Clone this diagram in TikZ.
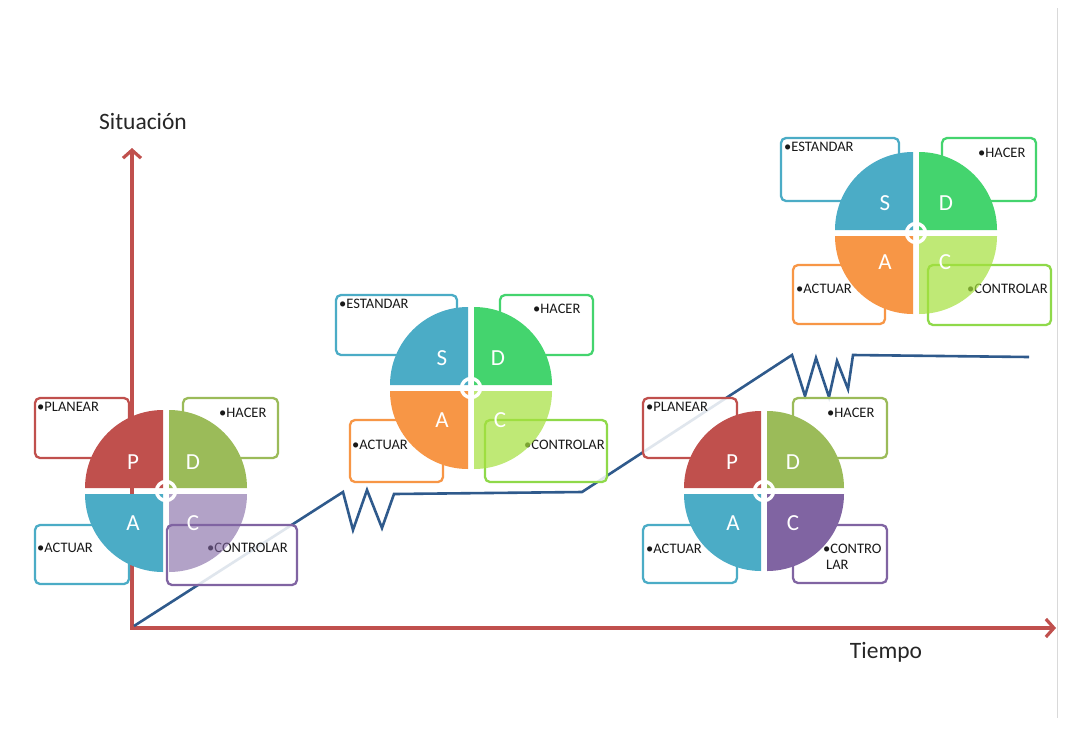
\documentclass[tikz,border=0pt]{standalone}
\usepackage{fontspec}
\setmainfont{Carlito}
\usetikzlibrary{arrows.meta}
\definecolor{axred}{HTML}{C0504D}
\definecolor{lineblue}{HTML}{2F5A8C}
\definecolor{pred}{HTML}{C0504D}
\definecolor{dolive}{HTML}{9BBB59}
\definecolor{ateal}{HTML}{4BACC6}
\definecolor{cpurple}{HTML}{8064A2}
\definecolor{dgreen}{HTML}{44D46E}
\definecolor{aorange}{HTML}{F79646}
\definecolor{clime}{HTML}{A5E13C}
\definecolor{blime}{HTML}{8FD94A}
\newcommand\cyc[7]{%
  \fill[#4] ({#1-3},{#2+3}) -- ++(180:{#3-3}) arc[start angle=180,end angle=90,radius={#3-3}] -- cycle;
  \fill[#5] ({#1+3},{#2+3}) -- ++(90:{#3-3}) arc[start angle=90,end angle=0,radius={#3-3}] -- cycle;
  \fill[#7] ({#1+3},{#2-3}) -- ++(0:{#3-3}) arc[start angle=0,end angle=-90,radius={#3-3}] -- cycle;
  \fill[#6] ({#1-3},{#2-3}) -- ++(270:{#3-3}) arc[start angle=270,end angle=180,radius={#3-3}] -- cycle;
  \draw[white,line width=3.5pt] (#1,#2) circle[radius=9.5];
}
\begin{document}
\begin{tikzpicture}[x=1pt,y=1pt,
  axis/.style={draw=axred,line width=3.4pt,{Straight Barb[length=8pt,width=18pt,line width=3.2pt]}-{Straight Barb[length=8pt,width=18pt,line width=3.2pt]}},
  trend/.style={draw=lineblue,line width=2.6pt,line join=miter},
  bx/.style={line width=2.3pt,rounded corners=5pt,fill=white,fill opacity=0.85},
  lbl/.style={font=\fontsize{14.5}{15}\selectfont,text=black!90,anchor=west,inner sep=0pt},
  ltr/.style={font=\fontsize{23}{26}\selectfont,text=white,inner sep=0pt},
  axlbl/.style={font=\fontsize{23.5}{26}\selectfont,text=black!85,inner sep=0pt}]
\useasboundingbox[fill=white] (0,0) rectangle (1076,-740);
\draw[black!15,line width=1pt] (1057,-8) -- (1057,-718);
% axes
\draw[axis] (132,-148) -- (132,-628) -- (1056,-628);
\node[axlbl] (ylab) at (143,-121) {Situación};
\node[axlbl] (xlab) at (886,-652) {Tiempo};
% trend line
\draw[trend] (134,-626) -- (343,-492) -- (353,-530) -- (367,-490) -- (382,-528) -- (394,-494)
  -- (582,-492) -- (792,-355) -- (805,-396) -- (816,-358) -- (829,-397) -- (837,-361)
  -- (848,-389) -- (853,-355) -- (1029,-357);
% ---------- diagram 1 (PDCA) ----------
\draw[bx,draw=pred] (35,-398) rectangle (129,-458);
\draw[bx,draw=dolive] (183,-398) rectangle (278,-458);
\draw[bx,draw=ateal] (35,-525) rectangle (129,-584);
\draw[bx,draw=cpurple] (167,-525) rectangle (297,-585);
\node[lbl] (t1p) at (37,-407) {•PLANEAR};
\node[lbl] (t1h) at (219,-413) {•HACER};
\node[lbl] (t1a) at (37,-548) {•ACTUAR};
\node[lbl] (t1c) at (207,-548) {•CONTROLAR};
\cyc{166}{-491}{81}{pred}{dolive}{ateal}{cpurple,fill opacity=0.6}
\node[ltr] (p1) at (133,-462) {P};
\node[ltr] (d1) at (193,-462) {D};
\node[ltr] (a1) at (133,-523) {A};
\node[ltr] (c1) at (193,-523) {C};
% ---------- diagram 2 (SDCA) ----------
\draw[bx,draw=ateal] (336,-295) rectangle (457,-355);
\draw[bx,draw=dgreen] (500,-295) rectangle (593,-355);
\draw[bx,draw=aorange] (350,-420) rectangle (443,-482);
\draw[bx,draw=blime] (485,-420) rectangle (607,-482);
\node[lbl] (t2s) at (339,-304) {•ESTANDAR};
\node[lbl] (t2h) at (533,-309) {•HACER};
\node[lbl] (t2a) at (352,-445) {•ACTUAR};
\node[lbl] (t2c) at (524,-445) {•CONTROLAR};
\cyc{471}{-388}{81}{ateal}{dgreen}{aorange}{clime,fill opacity=0.7}
\node[ltr] (s2) at (442,-358) {S};
\node[ltr] (d2) at (498,-358) {D};
\node[ltr] (a2) at (442,-420) {A};
\node[ltr] (c2) at (500,-420) {C};
% ---------- diagram 3 (PDCA) ----------
\draw[bx,draw=pred] (643,-398) rectangle (737,-458);
\draw[bx,draw=dolive] (793,-398) rectangle (887,-458);
\draw[bx,draw=ateal] (643,-525) rectangle (737,-583);
\draw[bx,draw=cpurple] (793,-525) rectangle (887,-583);
\node[lbl] (t3p) at (646,-407) {•PLANEAR};
\node[lbl] (t3h) at (827,-413) {•HACER};
\node[lbl] (t3a) at (646,-549) {•ACTUAR};
\node[lbl] (t3c) at (823,-549) {•CONTRO};
\node[lbl] (t3c2) at (826,-565) {LAR};
\cyc{764}{-491}{80}{pred}{dolive}{ateal}{cpurple}
\node[ltr] (p3) at (732,-462) {P};
\node[ltr] (d3) at (793,-462) {D};
\node[ltr] (a3) at (733,-523) {A};
\node[ltr] (c3) at (793,-523) {C};
% ---------- diagram 4 (SDCA) ----------
\draw[bx,draw=ateal] (781,-138) rectangle (899,-201);
\draw[bx,draw=dgreen] (942,-138) rectangle (1036,-201);
\draw[bx,draw=aorange] (793,-265) rectangle (885,-324);
\draw[bx,draw=blime] (928,-265) rectangle (1051,-325);
\node[lbl] (t4s) at (784,-147) {•ESTANDAR};
\node[lbl] (t4h) at (978,-153) {•HACER};
\node[lbl] (t4a) at (796,-289) {•ACTUAR};
\node[lbl] (t4c) at (967,-289) {•CONTROLAR};
\cyc{916}{-233}{81}{ateal}{dgreen}{aorange}{clime,fill opacity=0.7}
\node[ltr] (s4) at (885,-203) {S};
\node[ltr] (d4) at (946,-203) {D};
\node[ltr] (a4) at (885,-262) {A};
\node[ltr] (c4) at (945,-262) {C};
\end{tikzpicture}
\end{document}
